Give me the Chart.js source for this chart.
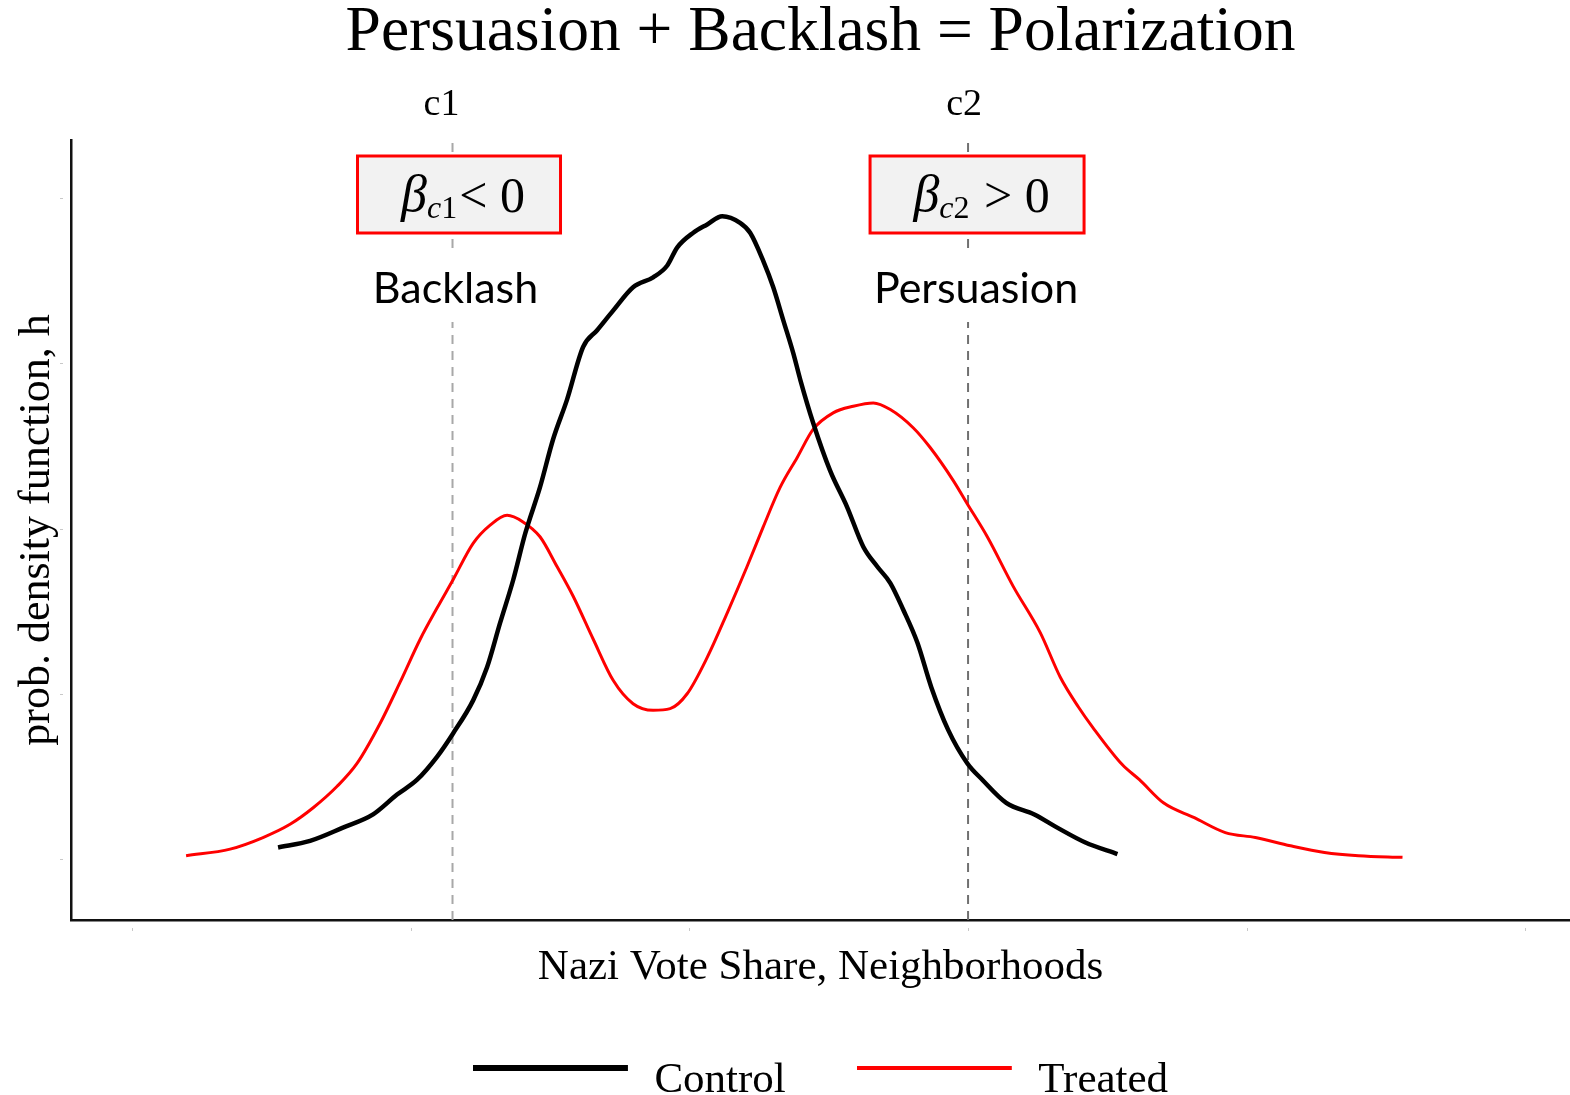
<!DOCTYPE html>
<html><head><meta charset="utf-8">
<script src="https://cdn.jsdelivr.net/npm/chart.js@4.4.0/dist/chart.umd.min.js"></script>
<style>html,body{margin:0;padding:0;background:#fff;}</style>
</head><body>
<canvas id="c" width="1570" height="1095"></canvas>
<script>
// ---- data (x: vote share, y: density units) ----
const seriesNames = ['Control', 'Treated'];
const controlX = [15.24,16.39,17.57,18.65,19.51,20.23,20.95,21.52,22.24,22.74,23.21,23.68,24.11,24.64,25.11,25.61,26.19,26.69,27.27,27.98,28.70,29.20,29.56,30.14,30.64,31.18,31.82,32.18,32.65,33.01,33.37,33.73,33.98,34.44,35.05,35.66,36.24,36.74,37.21,37.67,38.18,38.68,39.29,39.97,40.51,41.37,42.38,43.20,44.21,45.36];
const controlY = [1.07,1.11,1.19,1.27,1.39,1.48,1.62,1.76,1.96,2.16,2.43,2.69,2.97,3.25,3.54,3.78,4.10,4.20,4.32,4.46,4.52,4.59,4.70,4.79,4.84,4.89,4.85,4.79,4.62,4.46,4.26,4.06,3.90,3.64,3.35,3.13,2.89,2.77,2.67,2.51,2.31,2.04,1.78,1.58,1.48,1.34,1.27,1.19,1.10,1.03];
const treatedX = [11.94,13.52,14.70,15.67,16.50,17.36,18.08,18.90,19.62,20.34,20.95,21.52,22.24,22.85,23.46,24.03,24.64,25.25,25.83,26.55,27.27,27.98,28.70,29.31,29.92,30.64,31.36,32.07,32.65,33.26,33.87,34.44,35.16,35.88,36.60,37.21,38.03,38.64,39.47,39.97,40.69,41.62,42.59,43.31,43.96,44.46,45.54,46.15,47.01,48.12,49.23,50.31,51.57,52.79,54.01,55.59];
const treatedY = [1.02,1.06,1.13,1.21,1.31,1.44,1.58,1.82,2.07,2.33,2.52,2.69,2.91,3.02,3.08,3.04,2.95,2.77,2.59,2.33,2.08,1.94,1.90,1.91,2.00,2.22,2.49,2.77,3.01,3.25,3.43,3.60,3.70,3.74,3.76,3.72,3.61,3.49,3.29,3.15,2.95,2.65,2.37,2.10,1.92,1.80,1.57,1.48,1.34,1.25,1.16,1.13,1.08,1.04,1.02,1.01];
const cutoffs = [21.5, 40.0];
const cutoffLabels = ['c1', 'c2'];
const effectSubs = ['c1', 'c2'];
const effectRels = ['< 0', ' > 0'];
const effectNames = ['Backlash', 'Persuasion'];
const xTicks = [10, 20, 30, 40, 50, 60];
const yTicks = [1, 2, 3, 4, 5];
const xMin = 7.81, xMax = 61.6, yMin = 0.631, yMax = 5.351;

const SERIF = '"Liberation Serif", "DejaVu Serif", serif';
const SANS = 'Lato, "Open Sans", sans-serif';

function pts(xs, ys) { return xs.map((v, i) => ({x: v, y: ys[i]})); }

function legendImg(color, thick) {
  const c = document.createElement('canvas');
  c.width = 160; c.height = 40;
  const g = c.getContext('2d');
  g.fillStyle = color;
  g.fillRect(0, 7 - thick / 2, 155, thick);
  return c;
}
const legendImgs = [legendImg('#000000', 6), legendImg('#ff0000', 4)];

const annot = {
  id: 'annot',
  afterDraw(chart) {
    const {ctx, chartArea} = chart;
    const x = chart.scales.x, y = chart.scales.y;
    ctx.save();
    // faint tick marks
    ctx.fillStyle = '#c8c8c8';
    xTicks.forEach(v => { const p = Math.round(x.getPixelForValue(v)); ctx.fillRect(p, chartArea.bottom + 8, 1, 3); });
    yTicks.forEach(v => { const p = Math.round(y.getPixelForValue(v)); ctx.fillRect(chartArea.left - 11, p, 3, 1); });

    const boxL = [-95, -98], boxR = [108, 116];
    const labOff = [-11, -4], txtOff = [10.5, 13.5], nameOff = [3, 8];
    cutoffs.forEach((c, i) => {
      const px = x.getPixelForValue(c);
      // cutoff label
      ctx.fillStyle = '#000';
      ctx.font = '38px ' + SERIF;
      ctx.textAlign = 'center'; ctx.textBaseline = 'alphabetic';
      ctx.fillText(cutoffLabels[i], px + labOff[i], 115);
      // box
      const bx = px + boxL[i], bw = boxR[i] - boxL[i];
      ctx.fillStyle = '#f2f2f2';
      ctx.fillRect(bx, 156, bw, 77);
      ctx.strokeStyle = '#ff0000'; ctx.lineWidth = 3;
      ctx.strokeRect(bx, 156, bw, 77);
      // beta text
      const fBeta = 'italic 52px ' + SERIF, fSub = 'italic 32px ' + SERIF, fSubN = '32px ' + SERIF, fRel = '50px ' + SERIF;
      ctx.font = fBeta; const wB = ctx.measureText('β').width;
      ctx.font = fSub; const wC = ctx.measureText(effectSubs[i][0]).width;
      ctx.font = fSubN; const wN = ctx.measureText(effectSubs[i].slice(1)).width;
      ctx.font = fRel; const wR = ctx.measureText(effectRels[i]).width;
      const tot = wB + wC + wN + 2 + wR;
      let cx = px + txtOff[i] - tot / 2;
      ctx.textAlign = 'left'; ctx.fillStyle = '#000';
      ctx.font = fBeta; ctx.fillText('β', cx, 211); cx += wB;
      ctx.font = fSub; ctx.fillText(effectSubs[i][0], cx, 218); cx += wC;
      ctx.font = fSubN; ctx.fillText(effectSubs[i].slice(1), cx, 218); cx += wN + 2;
      ctx.font = fRel; ctx.fillText(effectRels[i], cx, 212);
      // effect name on a white patch (hides the dashed line)
      ctx.font = '43px ' + SANS; ctx.textAlign = 'center';
      const nw = ctx.measureText(effectNames[i]).width;
      ctx.fillStyle = '#fff';
      ctx.fillRect(px + nameOff[i] - nw / 2 - 6, 249, nw + 12, 73);
      ctx.fillStyle = '#000';
      ctx.fillText(effectNames[i], px + nameOff[i], 303);
    });
    ctx.restore();
  }
};

new Chart(document.getElementById('c'), {
  type: 'line',
  data: {
    datasets: [
      {label: seriesNames[0], data: pts(controlX, controlY), borderColor: '#000000', borderWidth: 4.5, pointRadius: 0, cubicInterpolationMode: 'monotone', fill: false},
      {label: seriesNames[1], data: pts(treatedX, treatedY), borderColor: '#ff0000', borderWidth: 3, pointRadius: 0, cubicInterpolationMode: 'monotone', fill: false},
      {label: cutoffLabels[0], data: [{x: cutoffs[0], y: yMin}, {x: cutoffs[0], y: yMax}], borderColor: '#a8a8a8', borderWidth: 2, borderDash: [9, 7], pointRadius: 0, tension: 0},
      {label: cutoffLabels[1], data: [{x: cutoffs[1], y: yMin}, {x: cutoffs[1], y: yMax}], borderColor: '#707070', borderWidth: 2, borderDash: [9, 7], pointRadius: 0, tension: 0}
    ]
  },
  options: {
    responsive: false,
    animation: false,
    devicePixelRatio: 1,
    layout: {padding: 0},
    scales: {
      x: {
        type: 'linear', min: xMin, max: xMax,
        ticks: {display: false, stepSize: 10, includeBounds: false},
        grid: {display: true, drawOnChartArea: false, drawTicks: false},
        border: {display: true, color: '#111', width: 2.5},
        title: {display: true, text: 'Nazi Vote Share, Neighborhoods', color: '#000', font: {family: SERIF, size: 43, lineHeight: 1}, padding: {top: 26.5, bottom: -1}}
      },
      y: {
        type: 'linear', min: yMin, max: yMax,
        ticks: {display: false, stepSize: 1, includeBounds: false},
        grid: {display: true, drawOnChartArea: false, drawTicks: false},
        border: {display: true, color: '#111', width: 2.5},
        title: {display: true, text: 'prob. density function, h', color: '#000', font: {family: SERIF, size: 44, lineHeight: 1}, padding: {top: 15, bottom: 12}}
      }
    },
    plugins: {
      title: {display: true, fullSize: false, text: 'Persuasion + Backlash = Polarization', color: '#000', font: {family: SERIF, size: 63.5, weight: 'normal', lineHeight: 1}, padding: {top: 2, bottom: 74.5}},
      legend: {
        display: true, position: 'bottom', fullSize: false, maxHeight: 106.5,
        labels: {
          usePointStyle: true, pointStyleWidth: 160, padding: 71, color: '#000',
          font: {family: SERIF, size: 43},
          generateLabels: () => seriesNames.map((n, i) => ({text: n, pointStyle: legendImgs[i], fillStyle: 'transparent', strokeStyle: 'transparent', lineWidth: 0, hidden: false, datasetIndex: i, fontColor: '#000'}))
        }
      },
      tooltip: {enabled: false}
    }
  },
  plugins: [annot]
});
</script>
</body></html>
